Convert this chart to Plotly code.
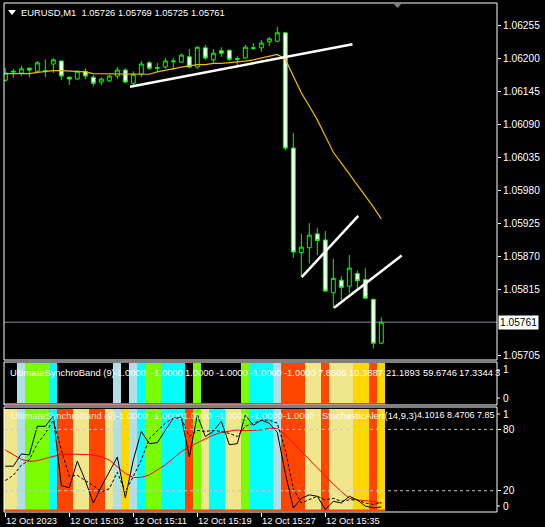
import plotly.graph_objects as go

W, H = 545, 527

# ---------------- data ----------------
times = ["14:55", "14:56", "14:57", "14:58", "14:59", "15:00", "15:01", "15:02",
         "15:03", "15:04", "15:05", "15:06", "15:07", "15:08", "15:09", "15:10",
         "15:11", "15:12", "15:13", "15:14", "15:15", "15:16", "15:17", "15:18",
         "15:19", "15:20", "15:21", "15:22", "15:23", "15:24", "15:25", "15:26",
         "15:27", "15:28", "15:29", "15:30", "15:31", "15:32", "15:33", "15:34",
         "15:35", "15:36", "15:37", "15:38", "15:39", "15:40", "15:41", "15:42"]

opens = [1.06164, 1.06179, 1.06176, 1.06184, 1.06179, 1.06179, 1.06191, 1.06196,
         1.06169, 1.06166, 1.06179, 1.06169, 1.06161, 1.06163, 1.06171, 1.06181,
         1.06159, 1.06174, 1.06193, 1.06184, 1.06186, 1.06195, 1.06194, 1.06203,
         1.06186, 1.06218, 1.06198, 1.06213, 1.06214, 1.06200, 1.06201, 1.06217,
         1.06218, 1.06228, 1.06229, 1.06243, 1.06051, 1.05877, 1.05885, 1.05908,
         1.05898, 1.05810, 1.05831, 1.05821, 1.05842, 1.05832, 1.05799, 1.05726]
highs = [1.06184, 1.06183, 1.06188, 1.06185, 1.06196, 1.06199, 1.06201, 1.06197,
         1.06170, 1.06180, 1.06184, 1.06173, 1.06169, 1.06173, 1.06186, 1.06184,
         1.06179, 1.06196, 1.06196, 1.06193, 1.06201, 1.06201, 1.06208, 1.06216,
         1.06220, 1.06223, 1.06216, 1.06219, 1.06215, 1.06204, 1.06223, 1.06226,
         1.06231, 1.06236, 1.06253, 1.06244, 1.06076, 1.05908, 1.05926, 1.05918,
         1.05913, 1.05867, 1.05838, 1.05873, 1.05847, 1.05851, 1.05800, 1.05769]
lows = [1.06162, 1.06168, 1.06171, 1.06169, 1.06178, 1.06169, 1.06176, 1.06164,
        1.06156, 1.06165, 1.06166, 1.06154, 1.06156, 1.06161, 1.06166, 1.06159,
        1.06154, 1.06169, 1.06181, 1.06178, 1.06183, 1.06181, 1.06193, 1.06184,
        1.06183, 1.06198, 1.06193, 1.06203, 1.06196, 1.06188, 1.06200, 1.06214,
        1.06211, 1.06221, 1.06228, 1.06047, 1.05868, 1.05837, 1.05859, 1.05873,
        1.05811, 1.05784, 1.05798, 1.05809, 1.05817, 1.05800, 1.05717, 1.05725]
closes = [1.06176, 1.06178, 1.06183, 1.06181, 1.06193, 1.06180, 1.06198, 1.06171,
          1.06166, 1.06179, 1.06171, 1.06159, 1.06166, 1.06171, 1.06181, 1.06161,
          1.06174, 1.06191, 1.06184, 1.06185, 1.06196, 1.06196, 1.06206, 1.06186,
          1.06219, 1.06201, 1.06209, 1.06209, 1.06199, 1.06199, 1.06219, 1.06218,
          1.06226, 1.06233, 1.06243, 1.06051, 1.05878, 1.05886, 1.05906, 1.05897,
          1.05813, 1.05834, 1.05819, 1.05851, 1.05830, 1.05801, 1.05726, 1.05761]

ma_line = [1.06175, 1.06175, 1.06175, 1.06175, 1.06177, 1.06179, 1.06180, 1.06180,
           1.06179, 1.06179, 1.06178, 1.06175, 1.06175, 1.06174, 1.06174, 1.06174,
           1.06174, 1.06175, 1.06174, 1.06178, 1.06181, 1.06184, 1.06186, 1.06188,
           1.06190, 1.06190, 1.06192, 1.06192, 1.06193, 1.06194, 1.06196, 1.06198,
           1.06201, 1.06204, 1.06207, 1.06199, 1.06170, 1.06143, 1.06121, 1.06098,
           1.06071, 1.06044, 1.06026, 1.06008, 1.05989, 1.05971, 1.05953, 1.05933]

stoch_main = [44, 44, 56, 55, 83, 83, 93, 25, 23, 49, 30, 8, 24, 38, 53, 13,
              50, 78, 66, 67, 79, 91, 92, 53, 94, 73, 78, 88, 65, 66, 94, 84,
              89, 86, 77, 37, 3, 12.6, 16, 14.6, 1.6, 9.7, 8, 14.6, 11, 5, 3.3, 4.1016]
stoch_signal = [30, 35, 45, 50, 66, 76, 89, 60, 34, 35, 30, 25, 19, 22, 38, 19,
                34, 50, 71, 79, 86, 91, 91, 73, 79, 78, 79, 78, 76, 73, 83, 86,
                89, 89, 86, 60, 22, 8, 11, 14.6, 11, 12.6, 9.7, 11, 11, 8, 6.5, 8.4706]
stoch_slow = [59.8, 54.9, 50.7, 48.7, 49.3, 51.6, 53.9, 55.5, 55.8, 55.8, 55.5, 54.9,
              53.3, 50, 43.5, 37, 33, 33, 35.4, 40.3, 45.2, 51.6, 58.2, 63,
              67, 71.2, 74.5, 77, 78.4, 79.4, 78.7, 78.7, 79.4, 81, 81, 74.5,
              66.4, 58.2, 50, 41.9, 34.4, 26.5, 19.1, 12.6, 11, 10.3, 9.4, 7.85]

LB, GR, CY, OR, KH, GD, BK = "#B0E0E6", "#7CFC00", "#00FFFF", "#FF4500", "#F0E68C", "#FFD700", "#000000"
band1_colors = [BK, BK, LB, GR, GR, GR, CY, BK, BK, BK, BK, BK, BK, BK, LB, BK,
                LB, CY, GR, GR, CY, CY, CY, BK, GR, BK, BK, BK, BK, BK, GR, CY,
                CY, CY, LB, OR, OR, OR, KH, KH, OR, KH, KH, KH, GD, GD, OR, GD]
band2_colors = [KH, KH, LB, GR, GR, GR, CY, OR, OR, KH, KH, OR, OR, KH, LB, GD,
                LB, CY, GR, GR, CY, CY, CY, OR, GR, KH, CY, CY, KH, KH, GR, CY,
                CY, CY, LB, OR, OR, OR, KH, KH, OR, KH, KH, KH, GD, GD, OR, GD]
band_full = 1.0
stoch_full = 100

# user-drawn trend lines (bar index, price)
trend_x0 = [15.59, 37.05, 41.10]
trend_y0 = [1.06153, 1.05836, 1.05785]
trend_x1 = [43.40, 44.12, 49.55]
trend_y1 = [1.06224, 1.05938, 1.05872]

bid_price = 1.05761
quote = "EURUSD,M1&nbsp;&nbsp;1.05726 1.05769 1.05725 1.05761"

price_ticks = [1.06255, 1.06200, 1.06145, 1.06090, 1.06035, 1.05980,
               1.05925, 1.05870, 1.05815, 1.05705]
time_tick_idx = [0, 8, 16, 24, 32, 40]
time_tick_labels = ["12 Oct 2023", "12 Oct 15:03", "12 Oct 15:11",
                    "12 Oct 15:19", "12 Oct 15:27", "12 Oct 15:35"]

sub1_label = "UltimateSynchroBand (9)"
sub1_values = ["-1.0000", "-1.0000", "1.0000", "-1.0000", "-1.0000", "-1.0000",
               "7.8505", "10.3887", "21.1893", "59.6746", "17.3344", "3"]
sub2_values = ["-1.0000", "-1.0000", "1.0000", "-1.0000", "-1.0000", "-1.0000"]
stoch_label = "StochasticAlert(14,9,3)"
stoch_values = ["4.1016", "8.4706", "7.85"]

# ---------------- layout helpers ----------------
def px(x):
    return x / W

def py(y):
    return 1 - y / H

idx = list(range(len(times)))
FONT = "Liberation Sans"
TXT = dict(family=FONT, size=9.4, color="white")
TXT_AX = dict(family=FONT, size=10.2, color="white")
TXT_DIM = dict(family=FONT, size=9.4, color="rgba(255,255,255,0.85)")
XS = -1

fig = go.Figure()

# main: moving average under the candles
fig.add_trace(go.Scatter(x=idx, y=ma_line, mode="lines",
                         line=dict(color="#F0B800", width=1.2),
                         xaxis="x", yaxis="y", hoverinfo="skip", showlegend=False))
fig.add_trace(go.Candlestick(
    x=idx, open=opens, high=highs, low=lows, close=closes, text=times,
    increasing=dict(line=dict(color="#00FF00", width=1), fillcolor="black"),
    decreasing=dict(line=dict(color="#00FF00", width=1), fillcolor="white"),
    whiskerwidth=0, xaxis="x", yaxis="y", hoverinfo="skip", showlegend=False))

# sub 1 colour band
fig.add_trace(go.Bar(x=idx, y=[band_full] * len(idx), width=1,
                     marker=dict(color=band1_colors, line=dict(width=0)),
                     xaxis="x2", yaxis="y2", hoverinfo="skip", showlegend=False))
fig.add_trace(go.Scatter(x=[idx[0] - 0.5, idx[-1] + 0.5], y=[-0.018, -0.018], mode="lines",
                         line=dict(color="#FF4500", width=1.5),
                         xaxis="x2", yaxis="y2", hoverinfo="skip", showlegend=False))

# sub 2 colour band + stochastic
fig.add_trace(go.Bar(x=idx, y=[stoch_full] * len(idx), width=1,
                     marker=dict(color=band2_colors, line=dict(width=0)),
                     xaxis="x3", yaxis="y3", hoverinfo="skip", showlegend=False))
fig.add_trace(go.Scatter(x=[idx[0] - 0.5, idx[-1] + 0.5], y=[1.0, 1.0], mode="lines",
                         line=dict(color="#FF4500", width=1.5),
                         xaxis="x3", yaxis="y3", hoverinfo="skip", showlegend=False))
fig.add_trace(go.Scatter(x=idx, y=stoch_slow, mode="lines", line=dict(color="#FF0000", width=1),
                         xaxis="x3", yaxis="y3", hoverinfo="skip", showlegend=False))
fig.add_trace(go.Scatter(x=idx, y=stoch_signal, mode="lines",
                         line=dict(color="black", width=1, dash="3px,2px"),
                         xaxis="x3", yaxis="y3", hoverinfo="skip", showlegend=False))
fig.add_trace(go.Scatter(x=idx, y=stoch_main, mode="lines", line=dict(color="black", width=1),
                         xaxis="x3", yaxis="y3", hoverinfo="skip", showlegend=False))

xr = [(4 - 5.3) / 8, (497 - 5.3) / 8]
xdom = [px(4), px(497)]
common_x = dict(range=xr, domain=xdom, showgrid=False, zeroline=False, showline=False, fixedrange=True)

shapes = []
# frames
for (t, b) in [(3, 360), (362, 405), (407, 512)]:
    shapes.append(dict(type="rect", xref="paper", yref="paper", x0=px(4), x1=px(497),
                       y0=py(b), y1=py(t), line=dict(color="white", width=1), layer="above"))
# bid line
shapes.append(dict(type="line", xref="paper", yref="y", x0=px(4), x1=px(497),
                   y0=bid_price, y1=bid_price, line=dict(color="#8C8C9C", width=1), layer="below"))
# trend lines
for a, b, c, d in zip(trend_x0, trend_y0, trend_x1, trend_y1):
    shapes.append(dict(type="line", xref="x", yref="y", x0=a, y0=b, x1=c, y1=d,
                       line=dict(color="white", width=2.5)))
# stochastic levels
for lvl in [80, 20]:
    shapes.append(dict(type="line", xref="paper", yref="y3", x0=px(4), x1=px(497),
                       y0=lvl, y1=lvl, line=dict(color="#C8C8C8", width=1, dash="3px,3px")))
# top-left menu triangle and shift marker
shapes.append(dict(type="path", xref="paper", yref="paper",
                   path=f"M {px(8)} {py(10)} L {px(16)} {py(10)} L {px(12)} {py(15)} Z",
                   fillcolor="white", line=dict(width=0)))
shapes.append(dict(type="path", xref="paper", yref="paper",
                   path=f"M {px(393)} {py(3)} L {px(402)} {py(3)} L {px(397.5)} {py(8)} Z",
                   fillcolor="#808080", line=dict(width=0)))

ann = []
ann.append(dict(text=quote, xref="paper", yref="paper", x=px(20), y=py(13), xshift=XS,
                xanchor="left", yanchor="middle", showarrow=False, font=TXT))
ann.append(dict(text=f"{bid_price:.5f}", xref="paper", yref="y", x=px(498), y=bid_price,
                xanchor="left", yanchor="middle", showarrow=False,
                font=dict(family=FONT, size=10.2, color="black"), bgcolor="white", borderpad=1))

# sub1 text
ann.append(dict(text=sub1_label, xref="paper", yref="paper", x=px(9), y=py(372), xshift=XS,
                xanchor="left", yanchor="middle", showarrow=False, font=TXT))
sub1_x = [113, 150, 184, 215, 249, 283, 317, 348, 385, 422, 458, 494]
for t, xx in zip(sub1_values, sub1_x):
    ann.append(dict(text=t, xref="paper", yref="paper", x=px(xx), y=py(372), xshift=XS,
                    xanchor="left", yanchor="middle", showarrow=False, font=TXT))
# sub2 text
ann.append(dict(text=sub1_label, xref="paper", yref="paper", x=px(10), y=py(415), xshift=XS,
                xanchor="left", yanchor="middle", showarrow=False, font=TXT_DIM))
sub2_x = [115, 150, 182, 215, 250, 282]
for t, xx in zip(sub2_values, sub2_x):
    ann.append(dict(text=t, xref="paper", yref="paper", x=px(xx), y=py(415), xshift=XS,
                    xanchor="left", yanchor="middle", showarrow=False, font=TXT_DIM))
ann.append(dict(text=stoch_label, xref="paper", yref="paper", x=px(321), y=py(415), xshift=XS,
                xanchor="left", yanchor="middle", showarrow=False, font=TXT))
ann.append(dict(text=" ".join(stoch_values), xref="paper", yref="paper", x=px(416), y=py(415),
                xshift=XS, xanchor="left", yanchor="middle", showarrow=False,
                font=dict(family=FONT, size=9, color="white")))

# right-side labels for indicator windows
for t, yy in [("1", 370), ("0", 398), ("1", 414), ("0", 506)]:
    ann.append(dict(text=t, xref="paper", yref="paper", x=px(502), y=py(yy), xshift=XS,
                    xanchor="left", yanchor="middle", showarrow=False, font=TXT_AX))
    shapes.append(dict(type="line", xref="paper", yref="paper", x0=px(497), x1=px(500),
                       y0=py(yy), y1=py(yy), line=dict(color="white", width=1)))

# time labels
for i, t in zip(time_tick_idx, time_tick_labels):
    ann.append(dict(text=t, xref="x3", yref="paper", x=i, y=py(520), xshift=XS,
                    xanchor="left", yanchor="middle", showarrow=False, font=TXT))

fig.update_layout(
    width=W, height=H, margin=dict(l=0, r=0, t=0, b=0),
    paper_bgcolor="black", plot_bgcolor="black",
    showlegend=False, bargap=0, hovermode=False,
    xaxis=dict(common_x, anchor="y", showticklabels=False, ticks="", rangeslider=dict(visible=False)),
    xaxis2=dict(common_x, anchor="y2", showticklabels=False, ticks=""),
    xaxis3=dict(common_x, anchor="y3", showticklabels=False, ticks="outside", ticklen=4,
                tickcolor="white", tickvals=time_tick_idx),
    yaxis=dict(domain=[py(360), py(3)], range=[1.05698, 1.06291 + 0.0000167], side="right",
               anchor="x", tickvals=price_ticks, ticktext=[f"{v:.5f}" for v in price_ticks],
               ticks="outside", ticklen=3, tickcolor="white", tickfont=TXT_AX,
               showgrid=False, zeroline=False, showline=False, fixedrange=True),
    yaxis2=dict(domain=[py(405), py(362)], range=[-0.05, 1.025], anchor="x2",
                showticklabels=False, ticks="", showgrid=False, zeroline=False, fixedrange=True),
    yaxis3=dict(domain=[py(512), py(407)], range=[-0.78, 101.86], anchor="x3", side="right",
                tickvals=[80, 20], ticks="outside", ticklen=3, tickcolor="white", tickfont=TXT_AX,
                showgrid=False, zeroline=False, showline=False, fixedrange=True),
    shapes=shapes, annotations=ann,
)

fig.write_html("out.html", config={"displayModeBar": False},
               post_script="document.body.style.margin='0';document.body.style.overflow='hidden';")
